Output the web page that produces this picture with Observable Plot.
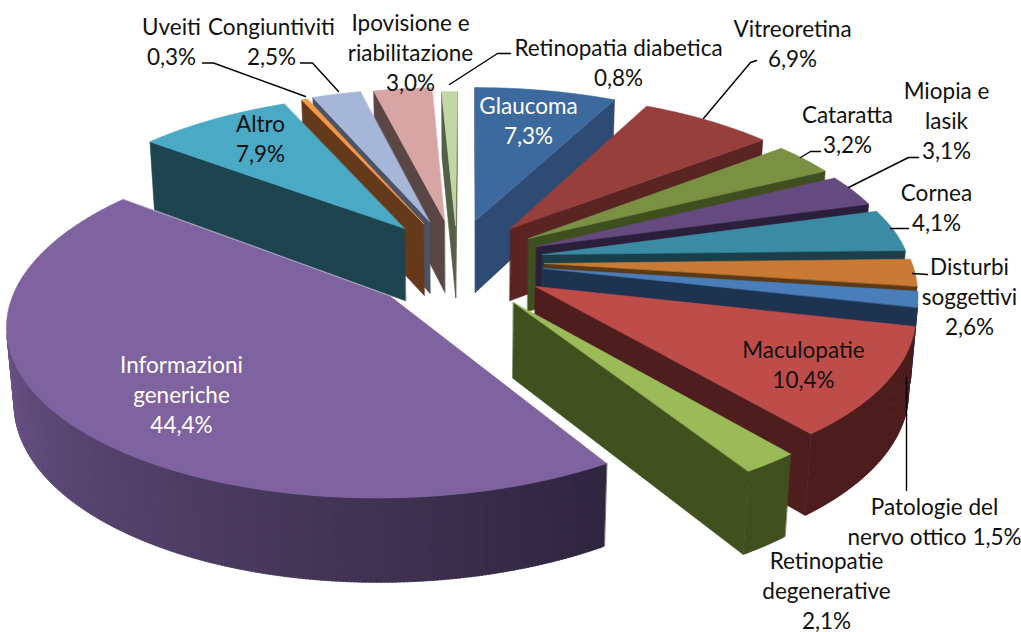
<!DOCTYPE html>
<html><head><meta charset="utf-8">
<style>html,body{margin:0;padding:0;background:#fff}svg{display:block}</style>
<script src="https://cdn.jsdelivr.net/npm/d3@7"></script>
<script src="https://cdn.jsdelivr.net/npm/@observablehq/plot@0.6"></script>
</head><body><div id="chart"></div>
<script>
const categories=["Glaucoma","Vitreoretina","Cataratta","Miopia e lasik","Cornea","Disturbi soggettivi","Patologie del nervo ottico","Maculopatie","Retinopatie degenerative","Informazioni generiche","Altro","Uveiti","Congiuntiviti","Ipovisione e riabilitazione","Retinopatia diabetica"];
const values=[7.3,6.9,3.2,3.1,4.1,2.6,1.5,10.4,2.1,44.4,7.9,0.3,2.5,3.0,0.8];
const topColors=["#3D6A9E","#963F3C","#7A9144","#654A80","#3A8BA3","#C97A35","#4A7EBB","#BE4D4A","#9BBB59","#7F62A0","#4AA9C4","#F79646","#A6B6D8","#D6A5A4","#C3D6A6"];
const wallColors=["#2E4B73","#5A2423","#3F4F20","#2B1F3B","#1A3F4A","#5A3A17","#1D3350","#4E1D1D","#40501F","#30263F","#1E444F","#653A1A","#4B5366","#5A4645","#555F46"];
const labelTexts=["Glaucoma\n7,3%","Vitreoretina\n6,9%","Cataratta\n3,2%","Miopia e\nlasik\n3,1%","Cornea\n4,1%","Disturbi\nsoggettivi\n2,6%","Patologie del\nnervo ottico 1,5%","Maculopatie\n10,4%","Retinopatie\ndegenerative\n2,1%","Informazioni\ngeneriche\n44,4%","Altro\n7,9%","Uveiti\n0,3%","Congiuntiviti\n2,5%","Ipovisione e\nriabilitazione\n3,0%","Retinopatia diabetica\n0,8%"];
const labelColors=["#fff","#111","#111","#111","#111","#111","#111","#111","#111","#fff","#111","#111","#111","#111","#111"];

// layout of the perspective view
const cam={cx:470,cy:255,A:365,s:.44,k:.14,h:.228};
// how far each slice is pulled out of the pie, in pixels on the picture
const explosionPx=[[5,-35],[40,-27],[58,-17],[66,-9],[72,-1],[74,8],[73,13],[65,31],[43,47],[-80,41],[-66,-27],[-47,-32],[-41,-34],[-26,-35],[-15,-30]];
const cT=Math.sqrt(1-cam.s*cam.s), D=cT/cam.k, F=cam.A*D;
function project(u,v,z){
  const w=D+v*cT-z*cam.s;
  return [cam.cx+F*u/w, cam.cy-F*(v*cam.s+z*cT)/w];
}
function unproject(dx,dy){ // point of the top plane seen at that offset from the centre
  const v=-dy*D/(F*cam.s+dy*cT);
  return [dx*(D+v*cT)/F,v];
}
const camPos=[0,-D*cT,D*cam.s];
const total=d3.sum(values);
let acc=0;
const slices=values.map((p,i)=>{
  const t0=acc/total*2*Math.PI; acc+=p; const t1=acc/total*2*Math.PI;
  return {i,t0,t1,mid:(t0+t1)/2};
});
slices.sort((a,b)=>Math.cos(b.mid)-Math.cos(a.mid));
const polys=[]; let pid=0;
function addPoly(pts,fill){const id=pid++; for(const p of pts){const [x,y]=project(p[0],p[1],p[2]); polys.push({id,x,y,fill});}}
for(const sl of slices){
  const [ox,oy]=unproject(explosionPx[sl.i][0],explosionPx[sl.i][1]);
  const at=(t,z)=>[ox+Math.sin(t),oy+Math.cos(t),z];
  const apex=z=>[ox,oy,z];
  const top=topColors[sl.i], wall=wallColors[sl.i];
  const n=Math.max(2,Math.ceil((sl.t1-sl.t0)/(Math.PI/360)));
  const faces=(nx,ny,px,py)=>nx*(camPos[0]-px)+ny*(camPos[1]-py)>0;
  const h=-cam.h;
  if(faces(-Math.cos(sl.t0),Math.sin(sl.t0),ox,oy)) addPoly([apex(0),at(sl.t0,0),at(sl.t0,h),apex(h)],wall);
  if(faces(Math.cos(sl.t1),-Math.sin(sl.t1),ox,oy)) addPoly([apex(0),at(sl.t1,0),at(sl.t1,h),apex(h)],wall);
  for(let j=0;j<n;j++){
    const a=sl.t0+(sl.t1-sl.t0)*j/n,b=sl.t0+(sl.t1-sl.t0)*(j+1)/n,m=(a+b)/2;
    const P=at(m,0);
    if(!faces(Math.sin(m),Math.cos(m),P[0],P[1])) continue;
    const deg=m*180/Math.PI;
    const r=Math.max(0,Math.min(1,(deg-150)/120))*0.8;
    const c=d3.interpolateRgb(wall,top)(r);
    addPoly([at(a,0),at(Math.min(b+.004,sl.t1),0),at(Math.min(b+.004,sl.t1),h),at(a,h)],c);
  }
  const pts=[apex(0)];
  for(let j=0;j<=n;j++) pts.push(at(sl.t0+(sl.t1-sl.t0)*j/n,0));
  addPoly(pts,top);
}
const labelLayout=[[528,119],[792,42],[847,128],[946,119],[936,206],[969,295],[934,520],[803,363],[826,589],[181,393],[260,137],[171,40],[271,40],[410,51],[618,61]];
const labels=labelTexts.map((t,i)=>({t,x:labelLayout[i][0],y:labelLayout[i][1],c:labelColors[i]}));
const leaderLayout=[
 [[202,62.5],[213,62.5],[305,96]],
 [[300,62.5],[312,62.5],[338,91]],
 [[510,53],[497,53],[449,84]],
 [[756,60],[750,62],[703,118]],
 [[820,151],[810,151],[800,157]],
 [[918,157],[908,157],[848,187]],
 [[908,228],[890,228]],
 [[927,274],[912,273]],
 [[906,490],[906,377]]
];
const leaders=leaderLayout.flatMap((l,k)=>l.map(p=>({k,x:p[0],y:p[1]})));
const plot=Plot.plot({
  width:1021,height:632,margin:0,
  x:{domain:[0,1021],range:[0,1021],axis:null},
  y:{domain:[0,632],range:[0,632],axis:null},
  color:{type:"identity"},
  marks:[
    Plot.line(polys,{x:"x",y:"y",z:"id",fill:"fill",stroke:"fill",strokeWidth:.6,curve:"linear-closed"}),
    Plot.line(leaders,{x:"x",y:"y",z:"k",stroke:"#000",strokeWidth:1.4}),
    Plot.text(labels,{x:"x",y:"y",text:"t",fill:"c",fontSize:22.5,lineHeight:1.33,fontFamily:"Lato, Carlito, sans-serif",lineAnchor:"middle"})
  ]
});
plot.style.background="#fff";
document.getElementById("chart").append(plot);
</script></body></html>
